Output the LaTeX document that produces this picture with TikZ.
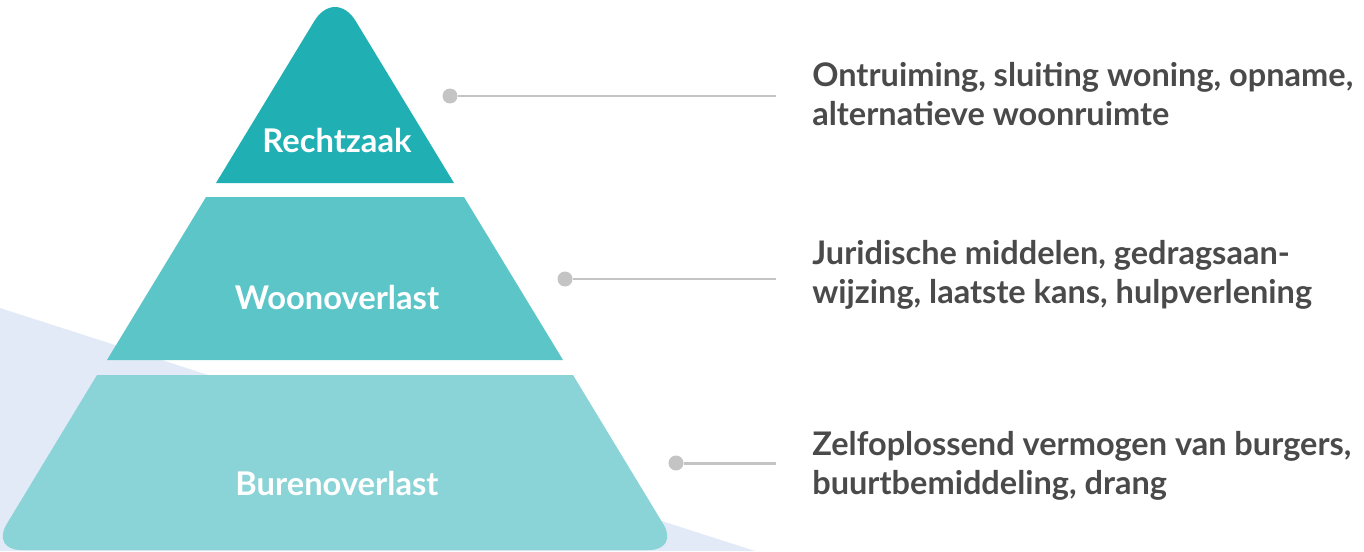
\documentclass[tikz,border=0pt]{standalone}
\usepackage{fontspec}
\setmainfont{Lato}
\definecolor{topc}{HTML}{20B0B4}
\definecolor{midc}{HTML}{5BC5C8}
\definecolor{botc}{HTML}{8AD3D6}
\definecolor{backc}{HTML}{E1EAF6}
\definecolor{linec}{HTML}{C4C4C4}
\definecolor{textc}{HTML}{4A4A4A}

\begin{document}
\begin{tikzpicture}[x=0.02cm, y=-0.02cm,
  lvl/.style={text=white, font=\fontsize{18.6}{20}\selectfont\bfseries},
  dot/.style={circle, fill=linec, inner sep=0pt, minimum size=0.3cm},
  link/.style={draw=linec, line width=1.7pt},
  info/.style={anchor=west, align=left, text=textc, inner sep=0pt,
    font=\fontsize{18.5}{22}\selectfont\bfseries}]

\useasboundingbox (0,0) rectangle (1364,551);

\fill[backc] (0,308) -- (755,551) -- (0,551) -- cycle;

\fill[botc] (97,375) -- (573,375) [rounded corners=0.6cm] -- (679,550) -- (-9,550) [sharp corners] -- cycle;
\fill[midc] (206,197) -- (464,197) -- (563,360) -- (107,360) -- cycle;
\fill[topc] (216,183) [rounded corners=0.8cm] -- (335,-13) [sharp corners] -- (454,183) -- cycle;

\node[lvl] (top) at (337,140) {Rechtzaak};
\node[lvl] (mid) at (337,297) {Woonoverlast};
\node[lvl] (bot) at (337,483) {Burenoverlast};

\node[dot] (d1) at (450,96) {};
\node[dot] (d2) at (565,279) {};
\node[dot] (d3) at (676,463) {};

\coordinate (e1) at (776,96);
\coordinate (e2) at (776,279);
\coordinate (e3) at (776,463);

\draw[link] (d1) -- (e1);
\draw[link] (d2) -- (e2);
\draw[link] (d3) -- (e3);

\node[info] (t1) at (812,94) {Ontruiming, sluiting woning, opname,\\alternatieve woonruimte};
\node[info] (t2) at (812,275) {Juridische middelen, gedragsaan-\\wijzing, laatste kans, hulpverlening};
\node[info] (t3) at (812,466) {Zelfoplossend vermogen van burgers,\\buurtbemiddeling, drang};

\end{tikzpicture}
\end{document}
